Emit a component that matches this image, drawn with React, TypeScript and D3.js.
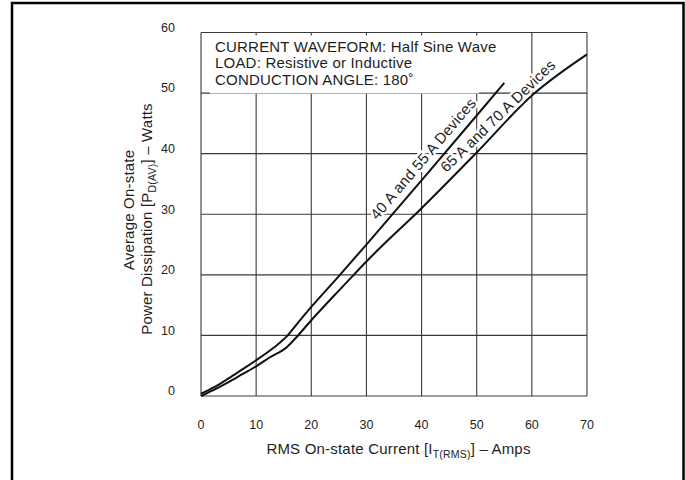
import React from 'react';
import * as d3 from 'd3';

const W = 685;
const H = 480;

const xTicks = [0, 10, 20, 30, 40, 50, 60, 70];
const yTicks = [0, 10, 20, 30, 40, 50, 60];

const currentA = [0, 2.5, 5, 7.5, 10, 12.5, 14.3, 15.5, 17.5, 20, 25, 30, 40, 50, 55];
const powerA = [0.4, 1.5, 2.9, 4.4, 5.9, 7.5, 8.8, 9.8, 12.0, 14.7, 19.8, 25.0, 35.6, 46.3, 51.7];

const currentB = [0, 2.5, 5, 7.5, 10, 12.5, 15.6, 17, 20, 25, 27.7, 30, 40, 50, 60, 70];
const powerB = [0, 1.1, 2.3, 3.6, 4.9, 6.4, 8.1, 9.4, 12.5, 17.4, 20, 22.2, 31.0, 40.2, 49.6, 56.4];

const seriesNames = ['40 A and 55 A Devices', '65 A and 70 A Devices'];
const noteLines = ['CURRENT WAVEFORM: Half Sine Wave', 'LOAD: Resistive or Inductive', 'CONDUCTION ANGLE: 180˚'];

const FONT = '"Liberation Sans", Arial, Helvetica, sans-serif';
const INK = '#1e1e1e';

export default function App() {
  const x = d3.scaleLinear().domain([0, 70]).range([201, 587]);
  const y = d3.scaleLinear().domain([0, 60]).range([396, 32.5]);

  const line = d3
    .line<[number, number]>()
    .x((d) => x(d[0]))
    .y((d) => y(d[1]))
    .curve(d3.curveMonotoneX);

  const ptsA: [number, number][] = currentA.map((c, i) => [c, powerA[i]]);
  const ptsB: [number, number][] = currentB.map((c, i) => [c, powerB[i]]);

  const fA = d3.scaleLinear().domain(currentA).range(powerA);
  const fB = d3.scaleLinear().domain(currentB).range(powerB);

  const labelPlacement = (f: (v: number) => number, x0: number, x1: number, off: number) => {
    const px0 = x(x0), py0 = y(f(x0));
    const px1 = x(x1), py1 = y(f(x1));
    const ang = Math.atan2(py0 - py1, px1 - px0);
    const ux = -Math.sin(ang), uy = -Math.cos(ang);
    return { tx: px0 + ux * off, ty: py0 + uy * off, deg: (ang * 180) / Math.PI };
  };

  const labs = [
    { ...labelPlacement(fA, 33, 51, 7.5), text: seriesNames[0] },
    { ...labelPlacement(fB, 45.4, 63.4, 7), text: seriesNames[1] },
  ];

  const [x0, x1] = x.range();
  const [y0, y1] = y.range();

  return (
    <svg
      width={W}
      height={H}
      style={{ position: 'absolute', left: 0, top: 0, background: '#fff' }}
      fontFamily={FONT}
    >
      <rect x={0} y={0} width={W} height={H} fill="#fff" />
      {/* outer frame */}
      <rect x={12} y={3} width={671.5} height={490} fill="none" stroke="#000" strokeWidth={2.5} />

      {/* grid */}
      <g stroke="#3a3a3a" strokeWidth={1.1}>
        {xTicks.map((t) => (
          <line key={'gx' + t} x1={x(t)} x2={x(t)} y1={y1} y2={y0} />
        ))}
        {yTicks.map((t) => (
          <line key={'gy' + t} x1={x0} x2={x1} y1={y(t)} y2={y(t)} />
        ))}
      </g>

      {/* note box */}
      <rect x={210} y={35.5} width={269} height={58} fill="#fff" />
      <g fontSize={15} fill={INK} letterSpacing={0.2}>
        {noteLines.map((s, i) => (
          <text key={s} x={215} y={51.5 + i * 16.8}>
            {s}
          </text>
        ))}
      </g>

      {/* tick labels */}
      <g fontSize={12.5} fill={INK}>
        {yTicks.map((t) => (
          <text key={'ty' + t} x={175} y={y(t) - 0.7} textAnchor="end">
            {t}
          </text>
        ))}
        {xTicks.map((t) => (
          <text key={'tx' + t} x={x(t)} y={428.5} textAnchor="middle">
            {t}
          </text>
        ))}
      </g>

      {/* curves */}
      <path d={line(ptsA) || ''} fill="none" stroke="#111" strokeWidth={2} />
      <path d={line(ptsB) || ''} fill="none" stroke="#111" strokeWidth={2} />

      {/* curve labels */}
      {labs.map((l) => (
        <text
          key={l.text}
          transform={`translate(${l.tx},${l.ty}) rotate(${-l.deg})`}
          fontSize={15}
          letterSpacing={0.2}
          fill={INK}
          stroke="#fff"
          strokeWidth={5}
          strokeLinejoin="round"
          style={{ paintOrder: 'stroke' }}
        >
          {l.text}
        </text>
      ))}

      {/* x axis title */}
      <text x={398.5} y={454.3} textAnchor="middle" fontSize={15} letterSpacing={0.2} fill={INK}>
        RMS On-state Current [I
        <tspan fontSize={10.5} dy={4}>T(RMS)</tspan>
        <tspan dy={-4}>] – Amps</tspan>
      </text>

      {/* y axis title */}
      <text
        transform={`translate(133.5,210) rotate(-90)`}
        textAnchor="middle"
        fontSize={15}
        letterSpacing={0.2}
        fill={INK}
      >
        Average On-state
      </text>
      <text
        transform={`translate(151.5,219) rotate(-90)`}
        textAnchor="middle"
        fontSize={15}
        letterSpacing={0.2}
        fill={INK}
      >
        Power Dissipation [P
        <tspan fontSize={10.5} dy={4}>D(AV)</tspan>
        <tspan dy={-4}>] – Watts</tspan>
      </text>
    </svg>
  );
}
